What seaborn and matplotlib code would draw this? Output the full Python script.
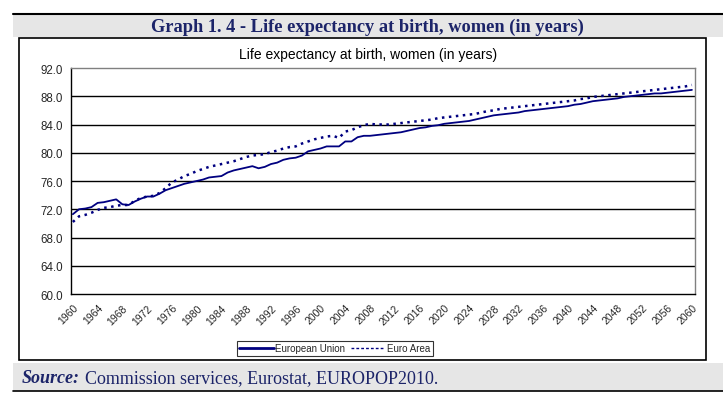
import matplotlib
matplotlib.use("Agg")
import matplotlib.pyplot as plt
import seaborn as sns
import pandas as pd
import numpy as np
from matplotlib.patches import Rectangle
from matplotlib.lines import Line2D

years = list(range(1960, 2061))

eu = [71.3, 72.0, 72.1, 72.3, 72.9, 73.0, 73.2, 73.4, 72.7, 72.6,
      73.1, 73.5, 73.8, 73.8, 74.2, 74.7, 75.0, 75.3, 75.6, 75.8,
      76.0, 76.2, 76.5, 76.6, 76.7, 77.2, 77.5, 77.7, 77.9, 78.1,
      77.8, 78.0, 78.4, 78.6, 79.0, 79.2, 79.3, 79.6, 80.2, 80.4,
      80.6, 80.9, 80.9, 80.9, 81.6, 81.6, 82.2, 82.4, 82.4, 82.5,
      82.6, 82.7, 82.8, 82.9, 83.1, 83.3, 83.5, 83.6, 83.8, 83.9,
      84.1, 84.2, 84.3, 84.4, 84.5, 84.7, 84.9, 85.1, 85.3, 85.4,
      85.5, 85.6, 85.7, 85.9, 86.0, 86.1, 86.2, 86.3, 86.4, 86.5,
      86.6, 86.8, 86.9, 87.1, 87.3, 87.4, 87.5, 87.6, 87.7, 87.9,
      88.0, 88.1, 88.2, 88.3, 88.4, 88.4, 88.5, 88.6, 88.7, 88.8,
      88.9]

euro_area = [70.2, 71.0, 71.2, 71.5, 71.9, 72.2, 72.3, 72.5, 72.6, 72.6,
             73.2, 73.6, 73.8, 73.9, 74.3, 75.0, 75.8, 76.2, 76.7, 77.0,
             77.4, 77.7, 78.0, 78.2, 78.4, 78.6, 78.8, 79.1, 79.4, 79.6,
             79.7, 79.8, 80.1, 80.3, 80.6, 80.8, 80.9, 81.3, 81.6, 81.9,
             82.1, 82.3, 82.4, 82.1, 83.0, 83.2, 83.6, 83.9, 84.1, 84.0,
             84.0, 84.0, 84.1, 84.2, 84.3, 84.4, 84.5, 84.6, 84.7, 84.9,
             85.0, 85.1, 85.2, 85.3, 85.4, 85.5, 85.7, 85.9, 86.0, 86.2,
             86.3, 86.4, 86.5, 86.6, 86.7, 86.8, 86.9, 87.0, 87.1, 87.2,
             87.3, 87.4, 87.6, 87.7, 87.9, 88.0, 88.1, 88.2, 88.3, 88.4,
             88.5, 88.6, 88.7, 88.8, 88.9, 89.0, 89.1, 89.2, 89.3, 89.4,
             89.6]

series_names = ["European Union", "Euro Area"]
y_ticks = [60.0, 64.0, 68.0, 72.0, 76.0, 80.0, 84.0, 88.0, 92.0]
x_label_years = list(range(1960, 2061, 4))

header_title = "Graph 1. 4 - Life expectancy at birth, women (in years)"
chart_title = "Life expectancy at birth, women (in years)"

df = pd.DataFrame({"year": years * 2,
                   "value": eu + euro_area,
                   "series": [series_names[0]] * len(years) + [series_names[1]] * len(years)})

sns.set_style("white")
plt.rcParams['font.family'] = ['Liberation Sans', 'DejaVu Sans']

W, H = 723, 402
fig = plt.figure(figsize=(W / 100, H / 100), dpi=100)
navy = "#000080"
title_navy = "#1c2469"

def fx(x):
    return x / W

def fy(y):
    return 1 - y / H

# header band
fig.patches.append(Rectangle((fx(13), fy(38)), fx(723 - 13), 23 / H, transform=fig.transFigure,
                             facecolor="#e6e6e6", edgecolor="none", zorder=-2))
fig.add_artist(Line2D([fx(13), 1], [fy(15), fy(15)], transform=fig.transFigure, color="black", lw=1.5))
fig.text(fx(367), fy(27), header_title, family=['Liberation Serif'], fontweight='bold',
         fontsize=13.25, color=title_navy, ha='center', va='center')

# chart box
fig.patches.append(Rectangle((fx(19), fy(361)), fx(706 - 19), (361 - 39) / H, transform=fig.transFigure,
                             facecolor="white", edgecolor="black", lw=1.2, zorder=-2))

# source band
fig.patches.append(Rectangle((fx(13), fy(392)), fx(723 - 13), (392 - 364) / H, transform=fig.transFigure,
                             facecolor="#e6e6e6", edgecolor="none", zorder=-2))
fig.add_artist(Line2D([fx(13), 1], [fy(392), fy(392)], transform=fig.transFigure, color="black", lw=1.2))
t1 = fig.text(fx(22), fy(383), "Source:", family=['Liberation Serif'], fontweight='bold', style='italic',
              fontsize=13, color=title_navy, ha='left', va='baseline')
fig.canvas.draw()
bb = t1.get_window_extent()
fig.text(bb.x1 / W + fx(5), fy(383), "Commission services, Eurostat, EUROPOP2010.", family=['Liberation Serif'],
         fontsize=13, color=title_navy, ha='left', va='baseline')

fig.text(fx(368), fy(55), chart_title, fontsize=10, color="black", ha='center', va='center')

ax = fig.add_axes([fx(71), fy(295), fx(695 - 71), (295 - 69) / H])
ax.set_zorder(3)
ax.set_facecolor("none")

sns.lineplot(data=df[df.series == series_names[0]], x="year", y="value", ax=ax,
             color=navy, lw=1.3, legend=False, zorder=3)
sns.lineplot(data=df[df.series == series_names[1]], x="year", y="value", ax=ax,
             color=navy, lw=1.8, legend=False, linestyle=(0, (1, 1.8)), zorder=3)

ax.set_xlim(1959.7, 2060.5)
ax.set_ylim(60, 92)
ax.set_yticks(y_ticks)
ax.set_yticklabels([f"{v:.1f}" for v in y_ticks], fontsize=8.3)
for v in y_ticks[1:-1]:
    ax.axhline(v, color="black", lw=1.0, zorder=1)

ax.set_xticks(x_label_years)
ax.set_xticklabels([str(y) for y in x_label_years], rotation=45, ha='right',
                   rotation_mode='anchor', fontsize=7.5)
ax.set_xticks([y for y in years], minor=True)
ax.tick_params(axis='x', which='major', length=0, pad=6)
ax.tick_params(axis='x', which='minor', length=4, width=0.8, direction='out', color='black')
ax.tick_params(axis='y', which='major', length=4, width=0.8, direction='out', color='black', pad=2)
ax.set_xlabel("")
ax.set_ylabel("")

for s in ["left", "bottom"]:
    ax.spines[s].set_color("black")
    ax.spines[s].set_linewidth(1.0)
for s in ["top", "right"]:
    ax.spines[s].set_color("#808080")
    ax.spines[s].set_linewidth(1.0)

handles = [Line2D([], [], color=navy, lw=2.0),
           Line2D([], [], color=navy, lw=1.0, linestyle=(0, (2, 1.5)))]
leg = fig.legend(handles, series_names, loc='center', bbox_to_anchor=(fx(335), fy(349.5)),
                 ncol=2, fontsize=7, frameon=True, fancybox=False, handlelength=3.5,
                 handletextpad=0.2, columnspacing=0.6, borderpad=0.25, borderaxespad=0)
leg.get_frame().set_edgecolor("black")
leg.get_frame().set_linewidth(0.8)
leg.set_zorder(5)

fig.savefig("out.png", dpi=100)
